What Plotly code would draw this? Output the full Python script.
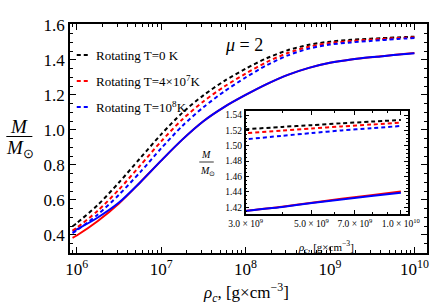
import plotly.graph_objects as go

# ---------------- data ----------------
log_rho = [5.95, 6.0, 6.25, 6.5, 6.75, 7.0, 7.25, 7.5, 7.75, 8.0, 8.25, 8.5, 8.75,
           9.0, 9.25, 9.477, 9.6, 9.7, 9.8, 9.9, 10.0]
rot_T0 = [0.450, 0.468, 0.572, 0.700, 0.838, 0.975, 1.098, 1.198, 1.281, 1.350, 1.410,
          1.456, 1.487, 1.505, 1.515, 1.5214, 1.5245, 1.5268, 1.5292, 1.5314, 1.5335]
rot_T4e7 = [0.425, 0.441, 0.539, 0.660, 0.796, 0.935, 1.060, 1.163, 1.249, 1.322, 1.388,
            1.440, 1.476, 1.497, 1.5085, 1.5162, 1.5197, 1.5224, 1.5251, 1.5276, 1.530]
rot_T1e8 = [0.410, 0.426, 0.517, 0.630, 0.758, 0.895, 1.023, 1.130, 1.221, 1.300, 1.370,
            1.426, 1.465, 1.488, 1.5005, 1.5084, 1.513, 1.5165, 1.520, 1.5229, 1.5257]
nonrot_T4e7 = [0.383, 0.397, 0.480, 0.580, 0.700, 0.825, 0.945, 1.050, 1.132, 1.200, 1.262,
               1.315, 1.355, 1.384, 1.403, 1.4153, 1.4208, 1.426, 1.4310, 1.4357, 1.4405]
nonrot_T1e8 = [0.420, 0.432, 0.500, 0.585, 0.700, 0.825, 0.945, 1.050, 1.132, 1.200, 1.262,
               1.315, 1.355, 1.384, 1.403, 1.4152, 1.4205, 1.4255, 1.4302, 1.4347, 1.439]

legend_labels = ["Rotating T=0 K", "Rotating T=4×10<sup>7</sup>K", "Rotating T=10<sup>8</sup>K"]
main_xticks = [1e6, 1e7, 1e8, 1e9, 1e10]
main_xticktext = ["10<sup>6</sup>", "10<sup>7</sup>", "10<sup>8</sup>", "10<sup>9</sup>", "10<sup>10</sup>"]
inset_xticks = [3e9, 5e9, 7e9, 1e10]
inset_xticktext = ["3.0 × 10<sup>9</sup>", "5.0 × 10<sup>9</sup>", "7.0 × 10<sup>9</sup>", "1.0 × 10<sup>10</sup>"]

rho = [10 ** v for v in log_rho]

FONT = "Liberation Serif, Times New Roman, serif"
BLACK, RED, BLUE = "#000000", "#ff0000", "#0000ff"
DASH = "4px,3px"

series = [
    (nonrot_T4e7, RED, "solid"),
    (nonrot_T1e8, BLUE, "solid"),
    (rot_T0, BLACK, DASH),
    (rot_T4e7, RED, DASH),
    (rot_T1e8, BLUE, DASH),
]

fig = go.Figure()
for ys, col, dash in series:
    fig.add_trace(go.Scatter(x=rho, y=ys, mode="lines",
                             line=dict(color=col, width=2, dash=dash, shape="spline", smoothing=0.8),
                             showlegend=False, xaxis="x", yaxis="y"))
for ys, col, dash in series:
    fig.add_trace(go.Scatter(x=rho, y=ys, mode="lines",
                             line=dict(color=col, width=2, dash=dash, shape="spline", smoothing=0.8),
                             showlegend=False, xaxis="x2", yaxis="y2"))

W, H = 443, 304
ML, MR, MT, MB = 70, 3, 24, 51
PW, PH = W - ML - MR, H - MT - MB


def px(x):
    return (x - ML) / PW


def py(y):
    return (H - MB - y) / PH


minor_main_x = [m * 10 ** e for e in range(5, 10) for m in range(2, 10)]
minor_inset_x = [4e9, 6e9, 8e9, 9e9]

axis_common = dict(showline=True, linecolor="black", mirror="ticks", ticks="inside",
                   tickcolor="black", showgrid=False, zeroline=False)

fig.update_layout(
    width=W, height=H,
    margin=dict(l=ML, r=MR, t=MT, b=MB),
    paper_bgcolor="white", plot_bgcolor="white",
    font=dict(family=FONT, color="black"),
    xaxis=dict(type="log", range=[5.92, 10.149], tickvals=main_xticks, ticktext=main_xticktext,
               ticklen=6, tickwidth=1, linewidth=1.6, tickfont=dict(size=17, family=FONT),
               minor=dict(tickvals=minor_main_x, ticklen=3, ticks="inside", tickcolor="black"),
               **axis_common),
    yaxis=dict(range=[0.297, 1.6057], tickvals=[0.4, 0.6, 0.8, 1.0, 1.2, 1.4, 1.6], tickformat=".1f",
               ticklen=6, tickwidth=1, linewidth=1.6, tickfont=dict(size=17, family=FONT),
               minor=dict(dtick=0.05, ticklen=3, ticks="inside", tickcolor="black"),
               **axis_common),
    xaxis2=dict(type="log", domain=[px(252), px(420)], anchor="y2",
                range=[9.4771, 10.023], tickvals=inset_xticks, ticktext=inset_xticktext,
                ticklen=4, tickwidth=1, linewidth=1.5, tickfont=dict(size=9.5, family=FONT),
                minor=dict(tickvals=minor_inset_x, ticklen=2, ticks="inside", tickcolor="black"),
                **axis_common),
    yaxis2=dict(domain=[py(214), py(111)], anchor="x2", range=[1.4113, 1.5452],
                tickvals=[1.42, 1.44, 1.46, 1.48, 1.50, 1.52, 1.54], tickformat=".2f",
                ticklen=4, tickwidth=1, linewidth=1.5, tickfont=dict(size=9.5, family=FONT),
                minor=dict(dtick=0.005, ticklen=2, ticks="inside", tickcolor="black"),
                **axis_common),
)

annotations = []
shapes = []

# white background for inset
shapes.append(dict(type="rect", xref="paper", yref="paper", x0=px(252), x1=px(420), y0=py(214), y1=py(111),
                   fillcolor="white", line=dict(width=0), layer="below"))

# legend (manual, short dashed samples)
for i, (lab, col) in enumerate(zip(legend_labels, [BLACK, RED, BLUE])):
    yy = 55 + 26 * i
    shapes.append(dict(type="line", xref="paper", yref="paper", x0=px(77), x1=px(89), y0=py(yy), y1=py(yy),
                       line=dict(color=col, width=2, dash=DASH)))
    annotations.append(dict(text=lab, xref="paper", yref="paper", x=px(95), y=py(yy), xanchor="left",
                            yanchor="middle", showarrow=False, font=dict(size=13, family=FONT, color="black")))

# mu = 2
annotations.append(dict(text="<i>μ</i> = 2", xref="paper", yref="paper", x=px(250), y=py(45),
                        xanchor="center", yanchor="middle", showarrow=False, font=dict(size=18, family=FONT)))

# main y fraction label
annotations.append(dict(text="<i>M</i>", xref="paper", yref="paper", x=px(17), y=py(126),
                        xanchor="center", yanchor="middle", showarrow=False, font=dict(size=19, family=FONT)))
annotations.append(dict(text="<i>M</i><sub>⊙</sub>", xref="paper", yref="paper", x=px(18), y=py(149),
                        xanchor="center", yanchor="middle", showarrow=False, font=dict(size=19, family=FONT)))
shapes.append(dict(type="line", xref="paper", yref="paper", x0=px(4), x1=px(31), y0=py(136.5), y1=py(136.5),
                   line=dict(color="black", width=1)))

# main x title
annotations.append(dict(text="<i>ρ</i><sub><i>c</i></sub>, [g×cm<sup>−3</sup>]", xref="paper", yref="paper",
                        x=px(252), y=py(292), xanchor="center", yanchor="middle", showarrow=False,
                        font=dict(size=17, family=FONT)))

# inset y fraction label
annotations.append(dict(text="<i>M</i>", xref="paper", yref="paper", x=px(211), y=py(154),
                        xanchor="center", yanchor="middle", showarrow=False, font=dict(size=10, family=FONT)))
annotations.append(dict(text="<i>M</i><sub>⊙</sub>", xref="paper", yref="paper", x=px(212), y=py(171),
                        xanchor="center", yanchor="middle", showarrow=False, font=dict(size=10, family=FONT)))
shapes.append(dict(type="line", xref="paper", yref="paper", x0=px(204), x1=px(219), y0=py(162), y1=py(162),
                   line=dict(color="black", width=0.8)))

# inset x title
annotations.append(dict(text="<i>ρ</i><sub><i>c</i></sub>, [g×cm<sup>−3</sup>]", xref="paper", yref="paper",
                        x=px(335), y=py(247), xanchor="center", yanchor="middle", showarrow=False,
                        font=dict(size=11, family=FONT)))

fig.update_layout(annotations=annotations, shapes=shapes)

fig.write_html("out.html", config={"displayModeBar": False},
               post_script="document.body.style.margin='0';document.body.style.overflow='hidden';")
